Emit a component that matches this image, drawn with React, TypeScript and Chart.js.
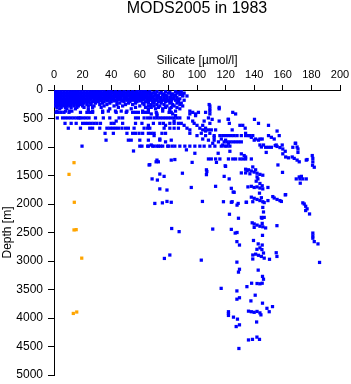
import React, { useEffect, useRef } from 'react';
import { Chart, registerables } from 'chart.js';

Chart.register(...registerables);

const FONT = "'Liberation Sans', Arial, Helvetica, sans-serif";

const chartTitle = 'MODS2005 in 1983';
const xAxisTitle = 'Silicate [µmol/l]';
const yAxisTitle = 'Depth [m]';

const xRange = [0, 200];
const xStep = 20;
const yRange = [0, 5000];
const yStep = 500;

const surfaceDepths = [30, 55, 80, 105, 130, 155, 180, 205, 230, 255, 280, 305, 330];
const surfaceSilicate: number[][] = [
  [1, 3, 5, 7, 9, 11, 13, 15, 17, 19, 21, 23, 25, 27, 29, 31, 33, 35, 38, 40, 43, 46, 49, 52, 55, 58, 60, 62, 64, 67, 72, 78, 85, 89],
  [2, 4, 6, 8, 10, 12, 14, 16, 18, 20, 22, 24, 26, 28, 30, 32, 34, 37, 39, 42, 45, 50, 53, 56, 59, 61, 63, 66, 69, 74, 80, 86, 91],
  [1, 3, 5, 7, 9, 11, 13, 15, 17, 19, 21, 23, 25, 27, 29, 31, 34, 36, 40, 43, 47, 51, 54, 57, 60, 63, 65, 68, 71, 76, 82, 88],
  [2, 4, 6, 8, 10, 12, 14, 16, 18, 20, 22, 24, 26, 28, 30, 33, 35, 38, 41, 44, 48, 52, 58, 61, 64, 67, 70, 73, 79, 84, 90, 93],
  [1, 3, 5, 7, 9, 11, 13, 15, 17, 19, 21, 23, 25, 27, 29, 32, 36, 39, 42, 46, 49, 53, 56, 59, 62, 66, 69, 72, 75, 81, 86],
  [2, 4, 6, 8, 10, 12, 14, 16, 18, 20, 22, 24, 26, 28, 31, 34, 37, 41, 45, 50, 54, 57, 60, 63, 67, 70, 74, 77, 83, 88],
  [1, 3, 5, 7, 9, 11, 13, 15, 17, 19, 21, 23, 25, 28, 30, 33, 38, 43, 47, 51, 55, 61, 65, 68, 71, 76, 80, 85, 91],
  [2, 4, 6, 8, 10, 12, 14, 16, 18, 20, 22, 24, 27, 31, 35, 40, 44, 49, 53, 58, 64, 69, 73, 78, 82, 87],
  [1, 3, 5, 7, 9, 11, 13, 15, 17, 19, 21, 25, 29, 34, 39, 46, 52, 57, 62, 66, 70, 75, 81, 86, 89],
  [2, 4, 6, 8, 10, 12, 14, 16, 18, 20, 23, 26, 32, 37, 44, 50, 55, 63, 68, 72, 77, 83, 88, 108.5],
  [1, 3, 5, 7, 9, 11, 14, 17, 20, 24, 28, 35, 42, 48, 60, 66, 70, 74, 79, 84, 90, 109],
  [2, 5, 8, 12, 16, 21, 27, 33, 45, 57, 64, 68, 73, 78, 82, 86, 115.5],
  [4, 9, 15, 24, 39, 54, 66, 71, 76, 81, 88, 109, 115.5],
];

// Additional surface casts at mid-range silicate values
const surfaceFillDepths = [42, 68, 92, 118, 142, 168, 192];
const surfaceFillSilicate: number[][] = [
  [32, 36, 41, 45, 48, 51, 54, 57, 63, 66, 70, 75, 81, 87],
  [31, 35, 38, 44, 48, 51, 55, 58, 61, 65, 71, 77, 83, 89],
  [33, 38, 42, 45, 49, 53, 56, 59, 62, 67, 73, 78, 85, 90],
  [31, 37, 40, 43, 46, 50, 55, 57, 60, 63, 68, 72, 77, 82],
  [30, 34, 38, 44, 47, 51, 55, 58, 61, 64, 68, 74, 79, 84],
  [32, 36, 40, 45, 49, 52, 59, 62, 66, 72, 78, 82, 87],
  [29, 33, 37, 42, 48, 53, 57, 60, 66, 70, 75, 80],
];

const intermediateDepths = [370, 392, 420, 450, 490, 515, 545, 585, 620, 670, 700, 720, 760, 800, 830, 860, 880, 910, 935, 965, 985];
const intermediateSilicate: number[][] = [
  [2, 8, 11, 12.5, 24, 27, 34, 38, 43, 47, 51, 62, 66, 76, 81, 85, 95, 109],
  [1.5, 3, 5, 7, 10.5, 18.5, 23, 25, 27, 34, 43.5, 50.5, 55, 57, 59, 62, 64, 66, 71.5, 80.5, 82, 97, 101, 106, 125],
  [68, 72, 83, 95, 99, 109, 127],
  [72, 85, 99],
  [2.3, 6, 8, 10, 12, 14, 16, 17.5, 18.5, 20.5, 22.5, 24.5, 29, 34.5, 39, 45.5, 48, 57, 59, 63, 65.5, 67.5, 70, 72, 74, 76, 78, 80, 82, 84, 86, 88, 94, 108],
  [110.6, 121.8, 140.2, 122],
  [43.5, 84, 97, 115.5, 105],
  [7.7, 12, 15.5, 20, 22, 24, 26, 28, 30, 32.5, 40, 42, 48, 57, 61.5, 69.5, 74, 76.5, 81, 84, 87, 89, 98, 109, 122.6, 143],
  [66, 78, 91, 100, 104, 130, 132, 150],
  [10, 18.5, 25, 27, 32, 37, 39, 41, 43, 45, 47.5, 50, 52, 56, 63, 65.5, 67, 77, 81, 84, 87, 93, 102, 106, 133.7],
  [95, 104, 108, 110, 113, 124.6],
  [106, 156],
  [35.7, 41.5, 51, 55, 57, 59.5, 62, 66, 68, 70, 75.5, 78, 95, 103, 109, 134],
  [70, 100, 106, 112, 116, 118, 120, 122, 124, 126, 128, 131, 134, 137, 139, 136, 150, 157.5],
  [112, 138, 152],
  [74, 104, 117, 141, 144, 145.6, 154],
  [36.4, 52, 54, 60, 66, 74, 82, 108, 112, 120, 140, 143],
  [78, 115, 119, 121, 123, 125, 127, 129, 131],
  [111, 122, 169],
  [68, 118, 146.5, 155.4, 159.6, 144],
  [19.6, 60, 61.5, 65.5, 66, 69, 70, 72, 73, 74.5, 76, 79.5, 80, 82.5, 84.5, 88, 91.5, 95, 98.5, 102, 105, 109, 112.5, 117, 119.5, 121, 123],
];

const deepSamples: [number, number][] = [
  [92.6, 1050], [98.5, 1110], [114.8, 1110], [123, 1075], [145, 1000], [148, 1005], [150, 1005], [152, 1005],
  [154.7, 975], [156, 990], [158, 1010], [160, 1035], [161.7, 1075], [160, 1120], [170, 1000], [168.7, 935],
  [167, 1005], [170.6, 1035], [170.6, 1095], [148.4, 1095], [55.6, 1070], [131, 1120], [133, 1150], [134, 1175],
  [84.5, 1220], [108, 1210], [110, 1210], [113, 1210], [116, 1210], [122, 1210], [125, 1210], [127, 1210],
  [130, 1210], [132, 1210], [134, 1210], [138, 1210], [72, 1230], [82, 1230], [71.4, 1260], [73, 1260],
  [67, 1310], [96.6, 1270], [113.6, 1270], [120, 1340], [66.5, 1315], [162, 1175], [164, 1190], [166.6, 1175],
  [168, 1200], [170, 1230], [171.5, 1260], [176.4, 1230], [177, 1220], [180.6, 1150], [181, 1200], [181, 1260],
  [180.8, 1320], [182, 1355], [156.6, 1315], [119.7, 1330], [106.6, 1400], [106.9, 1430], [106.6, 1485],
  [89.8, 1460], [74, 1475], [77, 1515], [68.6, 1560], [72.3, 1580], [119, 1515], [122.5, 1560], [131, 1455],
  [134, 1455], [135, 1415], [134, 1390], [136, 1400], [138, 1420], [140, 1440], [142, 1460], [144, 1480],
  [146, 1495], [137, 1470], [141, 1400], [139, 1350], [159.8, 1445], [142.6, 1560], [141.4, 1600], [142, 1525],
  [144, 1640], [145.6, 1680], [173, 1515], [169.4, 1560], [172, 1560], [174, 1560], [176.4, 1560], [172.2, 1635],
  [171.5, 1525], [135.6, 1700], [138, 1690], [140, 1710], [142, 1700], [144, 1720], [146, 1735], [149.6, 1710],
  [143.7, 1810], [96, 1710], [74, 1735], [79, 1755], [113, 1690], [124, 1725], [125.3, 1790], [126, 1795],
  [162, 1835], [153, 1870], [154, 1895], [156, 1920], [158, 1940], [159, 1955], [161.7, 1840], [138, 1880],
  [140, 1900], [142, 1920], [144, 1940], [146, 1960], [147, 1975], [139, 1960], [145, 1890], [134.4, 1970],
  [149.6, 1940], [70.5, 1990], [75.8, 1980], [79, 1955], [82, 1970], [103.8, 1955], [118.5, 1960], [124, 1970],
  [124.6, 1960], [128, 2020], [128.8, 1990], [134.6, 1970], [175, 2000], [176, 2040], [177, 2085], [176, 2115],
  [178.7, 2175], [174, 1980], [146, 2060], [146.5, 2140], [145, 2235], [147, 2235], [145.4, 2250], [145.6, 2340],
  [122.7, 2180], [129, 2250], [155.9, 2380], [138.6, 2330], [140, 2350], [142, 2370], [144, 2390], [146, 2400],
  [148, 2420], [140, 2410], [111, 2440], [124, 2445], [82.3, 2430], [87.5, 2485], [126.7, 2510], [128, 2500],
  [145.8, 2550], [139.5, 2640], [127.9, 2660], [129.7, 2720], [142.8, 2700], [145.6, 2720], [181, 2510],
  [181, 2560], [181, 2600], [182, 2660], [184.6, 2700], [141.9, 2795], [144, 2770], [145.4, 2800], [146.5, 2860],
  [139, 2895], [139, 2965], [141, 2880], [143, 2900], [145, 2920], [147, 2950], [150.7, 2970], [155.4, 2855],
  [155.9, 2920], [81, 2895], [77.2, 2955], [103, 2985], [127.9, 3020], [185.7, 3025], [129.7, 3145], [129, 3195],
  [142.8, 3160], [145.8, 3270], [146.5, 3320], [138.2, 3390], [142, 3395], [144, 3400], [145.6, 3390],
  [134.9, 3450], [116.9, 3480], [127.9, 3525], [140.7, 3600], [129.7, 3645], [127.9, 3670], [137.7, 3700],
  [145.8, 3740], [152.8, 3800], [148.9, 3830], [150.5, 3890], [136, 3880], [138, 3890], [140, 3900], [142, 3885],
  [144, 3910], [144.7, 3945], [122, 3890], [122, 3920], [122, 3955], [125.5, 3985], [128.3, 4020], [129.7, 4120],
  [127.4, 4150], [141.7, 4070], [141.9, 4335], [136, 4385], [138.8, 4375], [143.7, 4375], [129.3, 4535],
];

const orangeSamples: [number, number][] = [
  [14, 1275], [10.5, 1480], [14.2, 1970], [14, 2455], [15.5, 2450], [19.4, 2950], [13.5, 3920], [15.9, 3895],
];

const BLUE = '#0000ff';
const ORANGE = '#ffa500';

function rowsToPoints(depths: number[], rows: number[][]) {
  return rows.flatMap((xs, i) => xs.map((x) => ({ x, y: depths[i] })));
}

const mainTitlePlugin = {
  id: 'mainTitle',
  afterDraw(chart: any) {
    const { ctx, chartArea } = chart;
    ctx.save();
    ctx.font = `16px ${FONT}`;
    ctx.fillStyle = '#000';
    ctx.textAlign = 'center';
    ctx.textBaseline = 'middle';
    ctx.fillText(chartTitle, (chartArea.left + chartArea.right) / 2, 9);
    ctx.restore();
  },
};

export default function App() {
  const ref = useRef<HTMLCanvasElement | null>(null);

  useEffect(() => {
    if (!ref.current) return;
    const blue = [
      ...rowsToPoints(surfaceDepths, surfaceSilicate),
      ...rowsToPoints(surfaceFillDepths, surfaceFillSilicate),
      ...rowsToPoints(intermediateDepths, intermediateSilicate),
      ...deepSamples.map(([x, y]) => ({ x, y })),
    ];
    const orange = orangeSamples.map(([x, y]) => ({ x, y }));

    const chart = new Chart(ref.current, {
      type: 'scatter',
      data: {
        datasets: [
          {
            data: blue,
            pointStyle: 'rect',
            pointRadius: 2.3,
            pointBorderWidth: 0,
            pointBackgroundColor: BLUE,
            backgroundColor: BLUE,
            borderColor: BLUE,
            showLine: false,
          },
          {
            data: orange,
            pointStyle: 'rect',
            pointRadius: 2.3,
            pointBorderWidth: 0,
            pointBackgroundColor: ORANGE,
            backgroundColor: ORANGE,
            borderColor: ORANGE,
            showLine: false,
          },
        ],
      },
      options: {
        responsive: false,
        animation: false,
        events: [],
        layout: { padding: { left: 0, top: 0, right: 11, bottom: 9 } },
        plugins: {
          legend: { display: false },
          title: { display: false },
          tooltip: { enabled: false },
        },
        scales: {
          x: {
            type: 'linear',
            position: 'top',
            min: xRange[0],
            max: xRange[1],
            ticks: {
              stepSize: xStep,
              color: '#000',
              padding: 3,
              font: { family: FONT, size: 11 },
              maxRotation: 0,
              callback: (v: any) => String(v),
            },
            grid: { drawOnChartArea: false, drawTicks: true, tickLength: 5, color: '#000' },
            border: { display: true, color: '#000', width: 1 },
            title: {
              display: true,
              text: xAxisTitle,
              color: '#000',
              font: { family: FONT, size: 12 },
              padding: { top: 53.6, bottom: 0 },
            },
            afterFit: (s: any) => {
              s.height = 90;
              s.paddingLeft = 0;
              s.paddingRight = 0;
              s.paddingTop = 0;
              s.paddingBottom = 0;
            },
          },
          y: {
            type: 'linear',
            reverse: true,
            min: yRange[0],
            max: yRange[1],
            ticks: {
              stepSize: yStep,
              color: '#000',
              padding: 5,
              font: { family: FONT, size: 12 },
              callback: (v: any) => String(v),
            },
            grid: { drawOnChartArea: false, drawTicks: true, tickLength: 6, color: '#000' },
            border: { display: true, color: '#000', width: 1 },
            title: {
              display: true,
              text: yAxisTitle,
              color: '#000',
              font: { family: FONT, size: 12 },
              padding: { top: 0, bottom: 0 },
            },
            afterFit: (s: any) => {
              s.width = 54;
              s.paddingLeft = 0;
              s.paddingRight = 0;
              s.paddingTop = 0;
              s.paddingBottom = 0;
            },
          },
        },
      },
      plugins: [mainTitlePlugin],
    });
    return () => chart.destroy();
  }, []);

  return (
    <div style={{ position: 'absolute', left: 0, top: 0, width: 351, height: 384, background: '#fff' }}>
      <canvas ref={ref} width={351} height={384} style={{ display: 'block' }} />
    </div>
  );
}
